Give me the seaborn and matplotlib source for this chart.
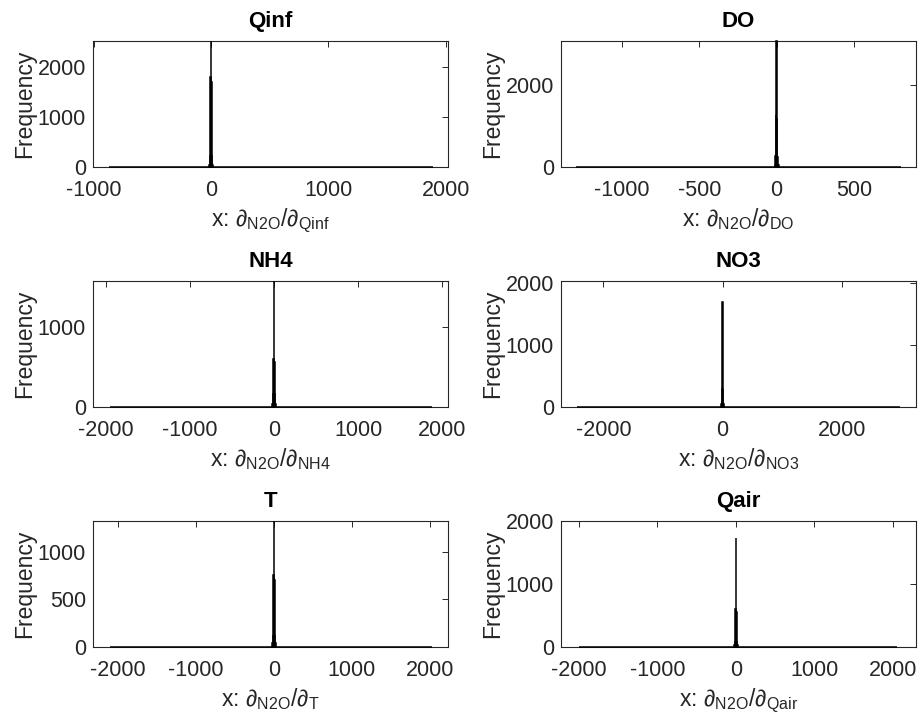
import numpy as np
import pandas as pd
import matplotlib
matplotlib.use("Agg")
import matplotlib.pyplot as plt
import seaborn as sns

sns.set_theme(style="white")
plt.rcParams["font.family"] = ["Liberation Sans", "DejaVu Sans"]
plt.rcParams["mathtext.fontset"] = "custom"
plt.rcParams["mathtext.rm"] = "Liberation Sans"
plt.rcParams["mathtext.it"] = "Liberation Sans:italic"
plt.rcParams["mathtext.bf"] = "Liberation Sans:bold"
plt.rcParams["axes.unicode_minus"] = False

# Sensitivity parameters, one histogram each
params = ["Qinf", "DO", "NH4", "NO3", "T", "Qair"]

# Range covered by the bins of each histogram
data_lo = [-860, -1290, -1948, -2428, -2100, -2000]
data_hi = [1884, 800, 1876, 2975, 2030, 2050]
bin_width = [4.5, 3.5, 6.5, 9.0, 7.0, 7.0]

# Counts of the bins around zero (bin offsets -4 .. +4); other bins are empty
center_counts = [
    [15, 40, 245, 1815, 2530, 1700, 245, 40, 15],
    [15, 50, 270, 1260, 3060, 1200, 260, 50, 15],
    [10, 40, 180, 600, 1578, 560, 180, 40, 10],
    [5, 20, 60, 310, 1690, 300, 60, 20, 5],
    [10, 40, 130, 750, 1320, 700, 130, 40, 10],
    [8, 30, 100, 610, 1730, 560, 100, 30, 8],
]

# Axis ranges and ticks
x_limits = [(-1006, 2020), (-1394, 900), (-2150, 2067),
            (-2713, 3243), (-2323, 2234), (-2232, 2296)]
y_limits = [(0, 2530), (0, 3067), (0, 1578), (0, 2025), (0, 1320), (0, 2000)]
x_ticks = [[-1000, 0, 1000, 2000], [-1000, -500, 0, 500],
           [-2000, -1000, 0, 1000, 2000], [-2000, 0, 2000],
           [-2000, -1000, 0, 1000, 2000], [-2000, -1000, 0, 1000, 2000]]
y_ticks = [[0, 1000, 2000], [0, 2000], [0, 1000], [0, 1000, 2000],
           [0, 500, 1000], [0, 1000, 2000]]

fig = plt.figure(figsize=(9.21, 7.18), dpi=100)

col_left = [0.101, 0.609]
row_bottom = [0.767, 0.4327, 0.0985]
ax_w, ax_h = 0.3855, 0.176

axis_color = "#262626"

for i, name in enumerate(params):
    r, c = divmod(i, 2)
    ax = fig.add_axes([col_left[c], row_bottom[r], ax_w, ax_h])

    w = bin_width[i]
    n_lo = int(np.floor(data_lo[i] / w))
    n_hi = int(np.ceil(data_hi[i] / w))
    idx = np.arange(n_lo, n_hi + 1)
    centers = idx * w
    edges = np.append(centers - w / 2, centers[-1] + w / 2)
    counts = np.zeros(len(centers))
    k0 = -n_lo
    half = len(center_counts[i]) // 2
    counts[k0 - half:k0 + half + 1] = center_counts[i]

    df = pd.DataFrame({"x": centers, "count": counts})
    sns.histplot(data=df, x="x", weights="count", bins=edges.tolist(), ax=ax,
                 color="black", edgecolor="black", linewidth=1.1, alpha=1.0,
                 clip_on=False, zorder=3)

    ax.set_xlim(*x_limits[i])
    ax.set_ylim(*y_limits[i])
    ax.set_xticks(x_ticks[i])
    ax.set_yticks(y_ticks[i])
    ax.set_title(name, fontsize=16, fontweight="bold", color="black", pad=10)
    ax.set_ylabel("Frequency", fontsize=16.5, color=axis_color, labelpad=1)
    ax.set_xlabel(r"x: $\partial_{\mathrm{N2O}}/\partial_{\mathrm{%s}}$" % name,
                  fontsize=16.5, color=axis_color, labelpad=4)
    ax.tick_params(direction="in", length=4, width=0.7, top=True, right=True,
                   labelsize=15.5, colors=axis_color)
    ax.tick_params(axis="x", pad=9)
    ax.tick_params(axis="y", pad=5)
    for sp in ax.spines.values():
        sp.set_color(axis_color)
        sp.set_linewidth(0.8)
        sp.set_visible(True)

fig.savefig("out.png", dpi=100)
